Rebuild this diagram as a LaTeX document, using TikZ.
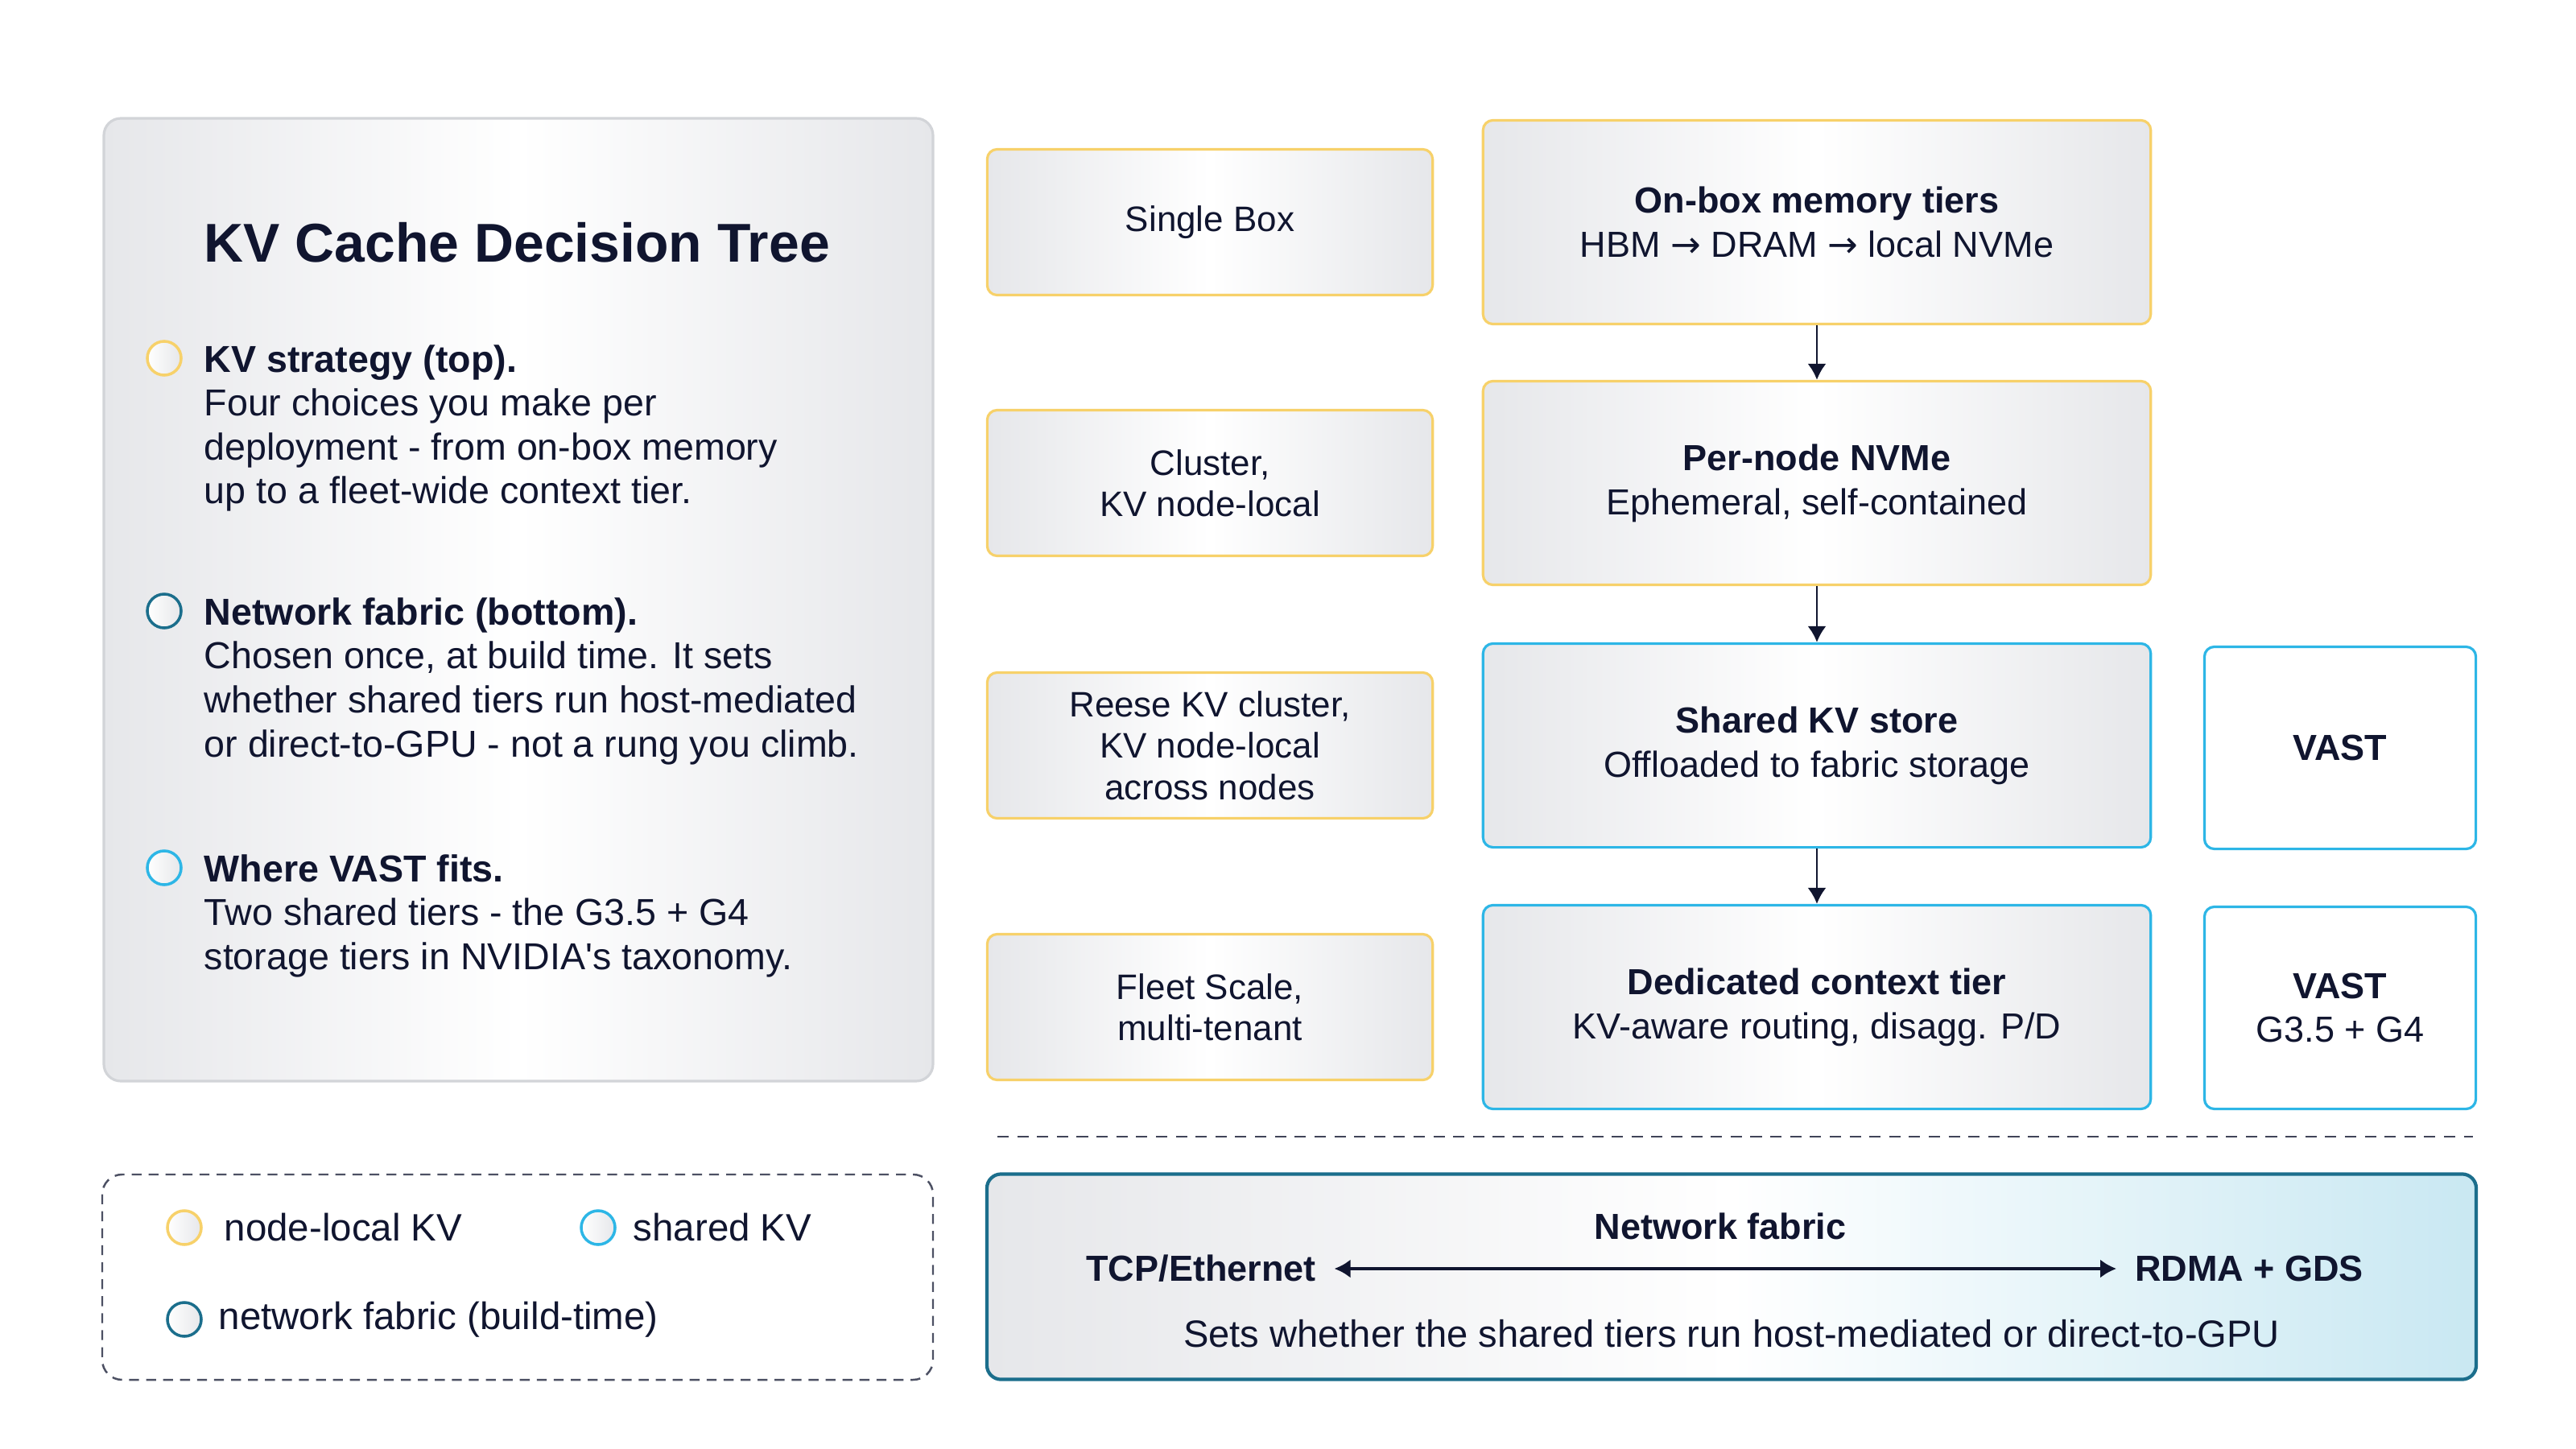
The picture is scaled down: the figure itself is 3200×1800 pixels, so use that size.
\documentclass[tikz,border=0pt]{standalone}
\usepackage{fontspec}
\setmainfont{Liberation Sans}
\newfontfamily\arrowfont{DejaVu Sans}
\usetikzlibrary{arrows.meta}

\definecolor{ink}{HTML}{10152F}
\definecolor{kvgold}{HTML}{F7D16A}
\definecolor{kvcyan}{HTML}{2DB6E6}
\definecolor{kvteal}{HTML}{1B6E8C}
\definecolor{boxgray}{HTML}{E6E7EA}
\definecolor{panelline}{HTML}{D2D4D8}
\definecolor{fabriccyan}{HTML}{C9E8F2}

\newcommand{\tierarrow}{{\arrowfont →}}

\begin{document}
\begin{tikzpicture}[x=0.01cm,y=-0.01cm,
  every node/.style={text=ink},
  shadedbox/.style={rounded corners=3.5pt,line width=0.9pt,left color=boxgray,right color=boxgray,middle color=white,align=center},
  scenario/.style={shadedbox,draw=kvgold,minimum width=5.53cm,minimum height=1.81cm,font=\fontsize{12.5}{14.6}\selectfont},
  tier/.style={shadedbox,minimum width=8.29cm,minimum height=2.53cm,font=\fontsize{12.8}{15.6}\selectfont},
  vast/.style={rounded corners=3.5pt,line width=0.9pt,draw=kvcyan,fill=white,minimum width=3.37cm,minimum height=2.51cm,align=center,font=\fontsize{12.8}{15.6}\selectfont},
  dot/.style={circle,minimum size=0.42cm,inner sep=0pt,line width=1pt,left color=white,right color=boxgray},
  para/.style={anchor=north west,inner sep=0pt,align=left,font=\fontsize{13.25}{15.5}\selectfont},
  legendtext/.style={anchor=west,inner sep=0pt,font=\fontsize{13.5}{16}\selectfont},
  tip/.style={-{Latex[length=5.7pt,width=6.6pt]},line width=0.8pt,draw=ink},
  fabrictip/.style={{Latex[length=5.7pt,width=6.6pt]}-{Latex[length=5.7pt,width=6.6pt]},line width=1.1pt,draw=ink},
]
\useasboundingbox[fill=white] (0,0) rectangle (3200,1800);

% left panel
\draw[rounded corners=6pt,draw=panelline,line width=0.9pt,left color=boxgray,right color=boxgray,middle color=white] (129,147) rectangle (1159,1343);
\node[anchor=base west,inner sep=0pt,font=\bfseries\fontsize{19.3}{23}\selectfont] (title) at (253,325) {KV Cache Decision Tree};

\node[dot,draw=kvgold] (dotstrategy) at (204,445) {};
\node[para] (strategy) at (253,428) {\textbf{KV strategy (top).}\\Four choices you make per\\deployment - from on-box memory\\up to a fleet-wide context tier.};
\node[dot,draw=kvteal] (dotfabric) at (204,759) {};
\node[para] (fabrictext) at (253,742) {\textbf{Network fabric (bottom).}\\Chosen once, at build time. It sets\\whether shared tiers run host-mediated\\or direct-to-GPU - not a rung you climb.};
\node[dot,draw=kvcyan] (dotvast) at (204,1078) {};
\node[para] (vasttext) at (253,1061) {\textbf{Where VAST fits.}\\Two shared tiers - the G3.5 + G4\\storage tiers in NVIDIA\textquotesingle s taxonomy.};

% scenarios
\node[scenario] (single) at (1503,276) {Single Box};
\node[scenario] (cluster) at (1503,600) {Cluster,\\KV node-local};
\node[scenario] (reese) at (1503,926) {Reese KV cluster,\\KV node-local\\across nodes};
\node[scenario] (fleet) at (1503,1251) {Fleet Scale,\\multi-tenant};

% tiers
\node[tier,draw=kvgold] (onbox) at (2257,276) {\textbf{On-box memory tiers}\\HBM \tierarrow{} DRAM \tierarrow{} local NVMe};
\node[tier,draw=kvgold] (pernode) at (2257,600) {\textbf{Per-node NVMe}\\Ephemeral, self-contained};
\node[tier,draw=kvcyan] (sharedkv) at (2257,926) {\textbf{Shared KV store}\\Offloaded to fabric storage};
\node[tier,draw=kvcyan] (dedicated) at (2257,1251) {\textbf{Dedicated context tier}\\KV-aware routing, disagg. P/D};

\draw[tip] (onbox) -- (pernode);
\draw[tip] (pernode) -- (sharedkv);
\draw[tip] (sharedkv) -- (dedicated);

\node[vast] (vastshared) at (2907,929) {\textbf{VAST}};
\node[vast] (vastcontext) at (2907,1252) {\textbf{VAST}\\G3.5 + G4};

% separator
\coordinate (sepleft) at (1239,1412);
\coordinate (sepright) at (3072,1412);
\draw[ink!80,line width=0.8pt,dash pattern=on 4pt off 3pt] (sepleft) -- (sepright);

% network fabric
\node[rounded corners=5pt,line width=1.2pt,draw=kvteal,left color=boxgray,right color=fabriccyan,middle color=white,minimum width=18.49cm,minimum height=2.55cm] (fabric) at (2151,1586) {};
\node[font=\bfseries\fontsize{12.8}{15}\selectfont] (fabrictitle) at (2137,1523) {Network fabric};
\node[font=\bfseries\fontsize{12.8}{15}\selectfont] (tcp) at (1492,1576) {TCP/Ethernet};
\node[font=\bfseries\fontsize{12.8}{15}\selectfont] (rdma) at (2794,1576) {RDMA + GDS};
\draw[fabrictip,shorten <=3pt,shorten >=3pt] (tcp) -- (rdma);
\node[font=\fontsize{13.4}{15}\selectfont] (fabricnote) at (2151,1657) {Sets whether the shared tiers run host-mediated or direct-to-GPU};

% legend
\draw[rounded corners=7pt,draw=ink!75,line width=0.7pt,dash pattern=on 3.5pt off 2.5pt] (127,1459) rectangle (1159,1714);
\node[dot,draw=kvgold] (keylocal) at (229,1525) {};
\node[legendtext] (keylocaltext) at (278,1525) {node-local KV};
\node[dot,draw=kvcyan] (keyshared) at (743,1525) {};
\node[legendtext] (keysharedtext) at (786,1525) {shared KV};
\node[dot,draw=kvteal] (keyfabric) at (229,1639) {};
\node[legendtext] (keyfabrictext) at (271,1639) {network fabric (build-time)};
\end{tikzpicture}
\end{document}
